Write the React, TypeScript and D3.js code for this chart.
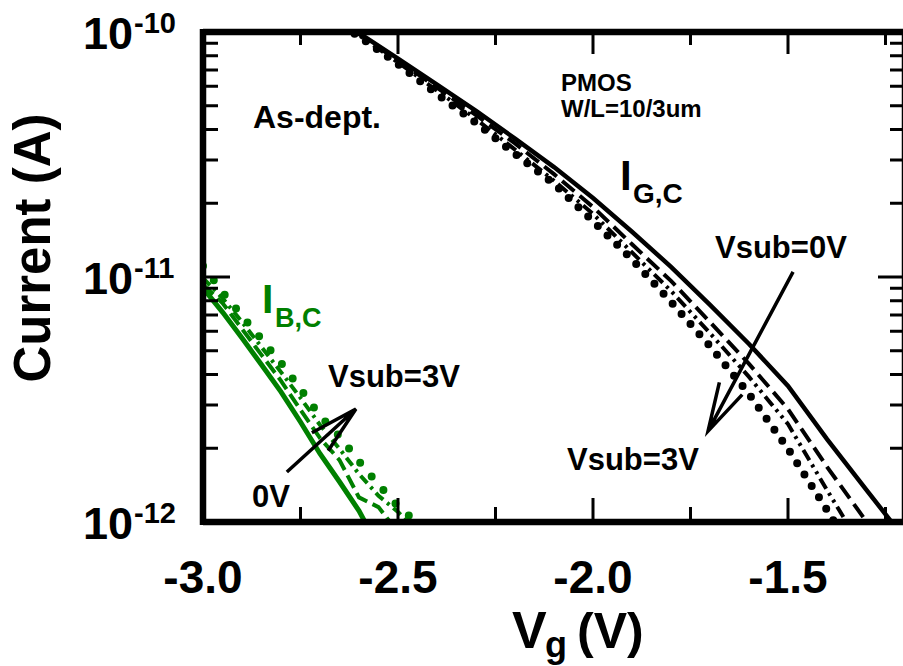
import React from "react";
import * as d3 from "d3";

// Gate current I_G,C versus gate voltage for four substrate biases
const gateVg = [-2.7, -2.6, -2.5, -2.4, -2.3, -2.2, -2.1, -2.0, -1.9, -1.8, -1.7, -1.6, -1.5, -1.4, -1.3, -1.2];
const igcSub0V = [1.29e-10, 9.9e-11, 7.79e-11, 6.1e-11, 4.77e-11, 3.67e-11, 2.81e-11, 2.1e-11, 1.53e-11, 1.1e-11, 7.69e-12, 5.33e-12, 3.59e-12, 2.18e-12, 1.36e-12, 8.5e-13];
const igcSub1V = [1.28e-10, 9.8e-11, 7.65e-11, 5.93e-11, 4.58e-11, 3.51e-11, 2.63e-11, 1.93e-11, 1.36e-11, 9.64e-12, 6.55e-12, 4.42e-12, 2.89e-12, 1.68e-12, 1.01e-12, 6.0e-13];
const igcSub2V = [1.27e-10, 9.7e-11, 7.51e-11, 5.77e-11, 4.41e-11, 3.31e-11, 2.47e-11, 1.81e-11, 1.26e-11, 8.77e-12, 5.9e-12, 3.91e-12, 2.51e-12, 1.35e-12, 7.4e-13, 4.2e-13];
const igcSub3V = [1.2e-10, 9.6e-11, 7.4e-11, 5.58e-11, 4.26e-11, 3.18e-11, 2.4e-11, 1.69e-11, 1.18e-11, 7.91e-12, 5.22e-12, 3.33e-12, 1.99e-12, 1.12e-12, 6.1e-13, 3.3e-13];

// Body current I_B,C versus gate voltage for the same biases
const bodyVg = [-3.0, -2.95, -2.9, -2.85, -2.8, -2.75, -2.7, -2.65, -2.6, -2.55, -2.5, -2.45];
const ibcSub0V = [9.02e-12, 7.19e-12, 5.64e-12, 4.38e-12, 3.4e-12, 2.56e-12, 1.9e-12, 1.46e-12, 1.11e-12, 7.9e-13, null, null];
const ibcSub1V = [9.3e-12, 7.83e-12, 6.14e-12, 4.81e-12, 3.77e-12, 2.87e-12, 2.2e-12, 1.79e-12, 1.26e-12, 1.15e-12, 9.1e-13, null];
const ibcSub2V = [9.9e-12, 8.2e-12, 6.55e-12, 5.18e-12, 4.09e-12, 3.21e-12, 2.49e-12, 1.99e-12, 1.57e-12, 1.28e-12, 1.1e-12, 9.0e-13];
const ibcSub3V = [1.11e-11, 8.69e-12, 6.93e-12, 5.58e-12, 4.46e-12, 3.49e-12, 2.71e-12, 2.24e-12, 1.77e-12, 1.42e-12, 1.16e-12, 9.9e-13];

// Axis ticks
const xMajorTicks = [-3.0, -2.5, -2.0, -1.5];
const xMajorLabels = ["-3.0", "-2.5", "-2.0", "-1.5"];
const xMinorTicks = [-2.75, -2.25, -1.75, -1.25];
const yDecades = [1e-10, 1e-11, 1e-12];
const yDecadeExponents = ["-10", "-11", "-12"];

// Arrow annotations in data units: [Vg, current] tail -> head
const arrowGate = [[-1.487, 1.05e-11], [-1.705, 2.35e-12]];
const arrowBody = [[-2.785, 1.6e-12], [-2.608, 2.89e-12]];

const FONT = "'Liberation Sans', Arial, Helvetica, sans-serif";
const GREEN = "#008000";

export default function App() {
  const W = 903;
  const H = 666;
  const x = d3.scaleLinear().domain([-3, -1.2]).range([203, 905]);
  const y = d3.scaleLog().domain([1e-12, 1e-10]).range([522, 32]);
  const [x0, x1] = x.range();
  const [yb, yt] = y.range();

  const path = (xs: number[], ys: (number | null)[]) =>
    d3
      .line<number>()
      .defined((i) => ys[i] != null)
      .x((i) => x(xs[i]))
      .y((i) => y(ys[i] as number))(xs.map((_, i) => i)) || "";

  const arrow = (a: number[][], arm: number, spread: number) => {
    const tx = x(a[0][0]);
    const ty = y(a[0][1]);
    const hx = x(a[1][0]);
    const hy = y(a[1][1]);
    const ang = Math.atan2(ty - hy, tx - hx);
    const s = (spread * Math.PI) / 180;
    const p1 = [hx + arm * Math.cos(ang + s), hy + arm * Math.sin(ang + s)];
    const p2 = [hx + arm * Math.cos(ang - s), hy + arm * Math.sin(ang - s)];
    return `M${tx},${ty}L${hx},${hy}M${p1[0]},${p1[1]}L${hx},${hy}L${p2[0]},${p2[1]}`;
  };

  const yTicks = y.ticks();
  const isDecade = (v: number) => Math.abs(Math.log10(v) - Math.round(Math.log10(v))) < 1e-6;

  return (
    <svg
      width={W}
      height={H}
      style={{ position: "absolute", left: 0, top: 0, background: "#fff" }}
      fontFamily={FONT}
      fontWeight="bold"
    >
      <rect width={W} height={H} fill="#fff" />
      <defs>
        <clipPath id="plotArea">
          <rect x={x0} y={yt} width={x1 - x0} height={yb - yt} />
        </clipPath>
      </defs>

      <g clipPath="url(#plotArea)" fill="none">
        {/* gate current */}
        <path d={path(gateVg, igcSub0V)} stroke="#000" strokeWidth={4.5} />
        <path d={path(gateVg, igcSub1V)} stroke="#000" strokeWidth={4} strokeDasharray="16,7" />
        <path d={path(gateVg, igcSub2V)} stroke="#000" strokeWidth={4} strokeDasharray="12,5,3,5,3,5" />
        <path d={path(gateVg, igcSub3V)} stroke="#000" strokeWidth={8} strokeLinecap="round" strokeDasharray="0,13.5" />
        {/* body current */}
        <path d={path(bodyVg, ibcSub0V)} stroke={GREEN} strokeWidth={5} />
        <path d={path(bodyVg, ibcSub1V)} stroke={GREEN} strokeWidth={4} strokeDasharray="14,6" />
        <path d={path(bodyVg, ibcSub2V)} stroke={GREEN} strokeWidth={4} strokeDasharray="10,5,3,5" />
        <path d={path(bodyVg, ibcSub3V)} stroke={GREEN} strokeWidth={8} strokeLinecap="round" strokeDasharray="0,18" />
      </g>

      {/* frame */}
      <g stroke="#000" fill="none">
        <path d={`M${x0},${yt}H${x1}M${x0},${yb}H${x1}`} strokeWidth={6.5} />
        <path d={`M${x0},${yt - 3}V${yb + 3}M${x1},${yt - 3}V${yb + 3}`} strokeWidth={6.5} />
        {xMajorTicks.map((t) => (
          <path key={"xM" + t} d={`M${x(t)},${yb}v-24M${x(t)},${yt}v22`} strokeWidth={3} />
        ))}
        {xMinorTicks.map((t) => (
          <path key={"xm" + t} d={`M${x(t)},${yb}v-15M${x(t)},${yt}v13`} strokeWidth={3} />
        ))}
        {yTicks.map((t) => {
          const len = isDecade(t) ? 27 : 15;
          return (
            <path key={"y" + t} d={`M${x0},${y(t)}h${len}M${x1},${y(t)}h${-len}`} strokeWidth={3} />
          );
        })}
      </g>

      {/* y tick labels */}
      {yDecades.map((d, i) => (
        <g key={"yl" + i}>
          <text x={133} y={y(d) + 17} fontSize={45} textAnchor="end" fill="#000">
            10
          </text>
          <text x={134} y={y(d) + 1} fontSize={29} fill="#000">
            {yDecadeExponents[i]}
          </text>
        </g>
      ))}

      {/* x tick labels */}
      {xMajorTicks.map((t, i) => (
        <text key={"xl" + t} x={x(t)} y={593} fontSize={46} textAnchor="middle" fill="#000">
          {xMajorLabels[i]}
        </text>
      ))}

      {/* axis titles */}
      <text transform="translate(50,248) rotate(-90)" fontSize={51} textAnchor="middle" fill="#000">
        Current (A)
      </text>
      <text x={512} y={648} fontSize={52} fill="#000">
        V
      </text>
      <text x={545} y={657} fontSize={36} fill="#000">
        g
      </text>
      <text x={577} y={648} fontSize={50} fill="#000">
        (V)
      </text>

      {/* annotations */}
      <text x={253} y={128} fontSize={32} fill="#000">As-dept.</text>
      <text x={561} y={91} fontSize={24} fill="#000">PMOS</text>
      <text x={561} y={117} fontSize={24} fill="#000">W/L=10/3um</text>
      <text x={620} y={190} fontSize={42} fill="#000">I</text>
      <text x={633} y={203} fontSize={28} fill="#000">G,C</text>
      <text x={262} y={313} fontSize={41} fill={GREEN}>I</text>
      <text x={275} y={327} fontSize={27} fill={GREEN}>B,C</text>
      <text x={715} y={258} fontSize={31} fill="#000">Vsub=0V</text>
      <text x={567} y={470} fontSize={31} fill="#000">Vsub=3V</text>
      <text x={328} y={387} fontSize={31} fill="#000">Vsub=3V</text>
      <text x={252} y={507} fontSize={31} fill="#000">0V</text>

      <path d={arrow(arrowGate, 50, 15)} stroke="#000" strokeWidth={3.5} fill="none" />
      <path d={arrow(arrowBody, 50, 14)} stroke="#000" strokeWidth={3.5} fill="none" />
    </svg>
  );
}
